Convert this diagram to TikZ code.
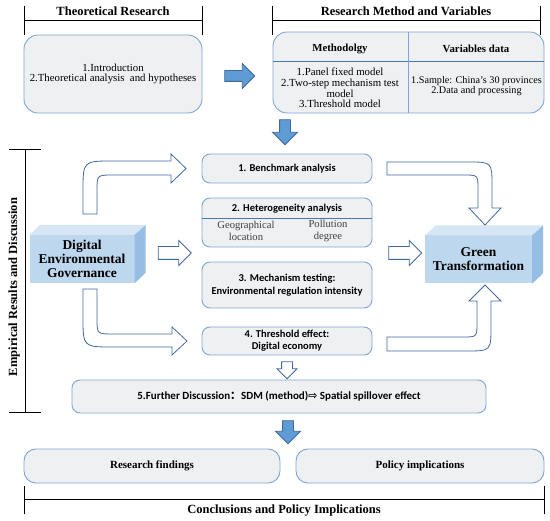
\documentclass[tikz,border=0pt]{standalone}
\usepackage{fontspec}
\setmainfont{Liberation Serif}
\newfontfamily\calib{Carlito}
\newfontfamily\cjk{Noto Sans CJK SC}
\newfontfamily\symb{DejaVu Sans}
\usepackage{tikz}
\usetikzlibrary{positioning,shapes.arrows}
\definecolor{myBoxLine}{RGB}{125,165,215}
\definecolor{myBoxFill}{RGB}{239,240,242}
\definecolor{myDivLine}{RGB}{70,120,180}
\definecolor{myArrowLine}{RGB}{65,105,160}
\definecolor{myArrowFill}{RGB}{95,155,213}
\definecolor{myCubeFront}{RGB}{189,215,238}
\definecolor{myCubeTop}{RGB}{214,230,245}
\definecolor{myCubeSide}{RGB}{150,190,228}

\begin{document}
\begin{tikzpicture}[
    x=1pt, y=-1pt,
    box/.style={
        draw=myBoxLine, line width=0.9pt, fill=myBoxFill, rounded corners=8pt,
        inner sep=0pt, align=center
    },
    bigbox/.style={box, rounded corners=14pt},
    title/.style={font=\fontsize{12.5}{14}\selectfont\bfseries},
    txt/.style={font=\fontsize{10.8}{10.6}\selectfont, align=center},
    midtxt/.style={font=\calib\fontsize{10.5}{12.5}\selectfont\bfseries, align=center},
    subtxt/.style={font=\fontsize{10.6}{12}\selectfont, align=center, text=black!75},
    cube/.style={fill=myCubeFront, minimum width=105pt, minimum height=48pt, inner sep=0pt,
        font=\fontsize{13.5}{14}\selectfont\bfseries, align=center},
    bluearrow/.style={single arrow, draw=myArrowLine, fill=myArrowFill, line width=0.8pt,
        inner sep=5pt, single arrow head extend=7pt},
    hollowarrow/.style={single arrow, draw=myArrowLine, fill=white, line width=0.8pt,
        inner sep=6pt, single arrow head extend=6pt, minimum height=33pt},
    bendarrow/.style={draw=myArrowLine, fill=white, line width=0.8pt},
    bracket/.style={line width=1pt}
]
    \useasboundingbox (0,0) rectangle (550,521);

    % top row
    \node[bigbox, minimum width=178pt, minimum height=78pt, txt] (theory) at (113,74)
        {1.Introduction\\2.Theoretical analysis\ \ and hypotheses};
    \node[bigbox, minimum width=271pt, minimum height=81pt] (method) at (408.5,72.5) {};
    \coordinate (hline) at (0,61);
    \draw[myDivLine, line width=0.9pt] (method.west |- hline) -- (method.east |- hline);
    \draw[myBoxLine, line width=0.9pt] (method.north) -- (method.south);
    \node[font=\fontsize{10.8}{12}\selectfont\bfseries] (methhead) at (340,49) {Methodolgy};
    \node[font=\fontsize{10.8}{12}\selectfont\bfseries] (varhead) at (476,49) {Variables data};
    \node[txt] (methlist) at (340,88)
        {1.Panel fixed model\\2.Two-step mechanism test\\model\\3.Threshold model};
    \node[txt, font=\fontsize{10.2}{10.6}\selectfont] (varlist) at (476.5,86)
        {1.Sample: China’s 30 provinces\\2.Data and processing};

    % brackets
    \draw[bracket] (24,6) -- (24,35) (24,21) -- (202,21) (202,6) -- (202,35);
    \node[title] (ttheory) at (113,11) {Theoretical Research};
    \draw[bracket] (272,6) -- (272,35) (272,21) -- (540,21) (540,6) -- (540,35);
    \node[title] (tmethod) at (406,11) {Research Method and Variables};
    \draw[bracket] (9,150) -- (41,150) (25,150) -- (25,413) (9,413) -- (41,413);
    \node[title] at (14,287) [rotate=90] (tempir) {Empirical Results and Discussion};
    \draw[bracket] (24,486) -- (24,514) (24,500) -- (544,500) (544,486) -- (544,514);
    \node[title] (tconcl) at (284,511) {Conclusions and Policy Implications};

    % middle boxes
    \node[box, minimum width=170pt, minimum height=29pt, midtxt] (bench) at (287,168.5)
        {1. Benchmark analysis};
    \node[box, minimum width=170pt, minimum height=49pt] (hetero) at (287,222.5) {};
    \coordinate (hdiv) at (0,218);
    \draw[myDivLine, line width=0.9pt] (hetero.west |- hdiv) -- (hetero.east |- hdiv);
    \node[midtxt] (heterohead) at (287,208.5) {2. Heterogeneity analysis};
    \node[subtxt] (geo) at (246,231) {Geographical\\location};
    \node[subtxt] (poll) at (328,231) {Pollution\\degree};
    \node[box, minimum width=170pt, minimum height=46pt, midtxt] (mech) at (287,285)
        {3. Mechanism testing:\\Environmental regulation intensity};
    \node[box, minimum width=170pt, minimum height=28pt, midtxt, font=\calib\fontsize{10.5}{12}\selectfont\bfseries] (thresh) at (287,341)
        {4. Threshold effect:\\Digital economy};
    \node[box, minimum width=414pt, minimum height=33pt, midtxt, font=\calib\fontsize{11}{13}\selectfont\bfseries] (further) at (279,396.5)
        {5.Further Discussion{\cjk ：}SDM (method){\symb ⇨} Spatial spillover effect};

    % bottom boxes
    \node[box, rounded corners=12pt, minimum width=256pt, minimum height=34pt, title,
        font=\fontsize{11}{13}\selectfont\bfseries] (findings) at (152,466) {Research findings};
    \node[box, rounded corners=12pt, minimum width=248pt, minimum height=34pt, title,
        font=\fontsize{11}{13}\selectfont\bfseries] (policy) at (420,466) {Policy implications};

    % cubes
    \node[cube] (deg) at (82,259) {Digital\\Environmental\\Governance};
    \fill[myCubeTop] (deg.north west) -- ++(11,-10) -- ++(105,0) -- (deg.north east) -- cycle;
    \fill[myCubeSide] (deg.north east) -- ++(11,-10) -- ++(0,48) -- (deg.south east) -- cycle;
    \node[cube, minimum width=107pt] (green) at (478.5,259.5) {Green\\Transformation};
    \fill[myCubeTop] (green.north west) -- ++(11,-10) -- ++(107,0) -- (green.north east) -- cycle;
    \fill[myCubeSide] (green.north east) -- ++(11,-10) -- ++(0,48) -- (green.south east) -- cycle;

    % block arrows
    \node[bluearrow, minimum height=30pt] (a1) at (237,76) {};
    \node[bluearrow, minimum height=25pt, rotate=-90] (a2) at (285,129.5) {};
    \node[bluearrow, minimum height=23pt, rotate=-90] (a3) at (288,429.5) {};
    \node[hollowarrow] (h1) at (171.5,253) {};
    \node[hollowarrow] (h2) at (402,253) {};
    \node[hollowarrow, inner sep=5pt, single arrow head extend=4.5pt, minimum height=17pt,
        rotate=-90] (h3) at (287,367.5) {};

    % bent arrows
    \draw[bendarrow] (83,214) -- (83,191) .. controls (83,161) .. (113,161) -- (171,161)
        -- (171,154) -- (186,168.5) -- (171,183) -- (171,175) -- (113,175)
        .. controls (97,175) .. (97,191) -- (97,214) -- cycle;
    \draw[bendarrow] (83,289) -- (83,317) .. controls (83,347) .. (113,347) -- (172,347)
        -- (172,355) -- (187,341) -- (172,327) -- (172,334) -- (113,334)
        .. controls (97,334) .. (97,318) -- (97,289) -- cycle;
    \draw[bendarrow] (387,162) -- (468,162) .. controls (492,162) .. (492,186) -- (492,208)
        -- (501,208) -- (485,225) -- (469,208) -- (478,208) -- (478,189)
        .. controls (478,175) .. (464,175) -- (387,175) -- cycle;
    \draw[bendarrow] (387,351) -- (466,351) .. controls (491,351) .. (491,326) -- (491,301)
        -- (501,301) -- (485,285) -- (469,301) -- (477,301) -- (477,323)
        .. controls (477,337) .. (463,337) -- (387,337) -- cycle;
\end{tikzpicture}
\end{document}
